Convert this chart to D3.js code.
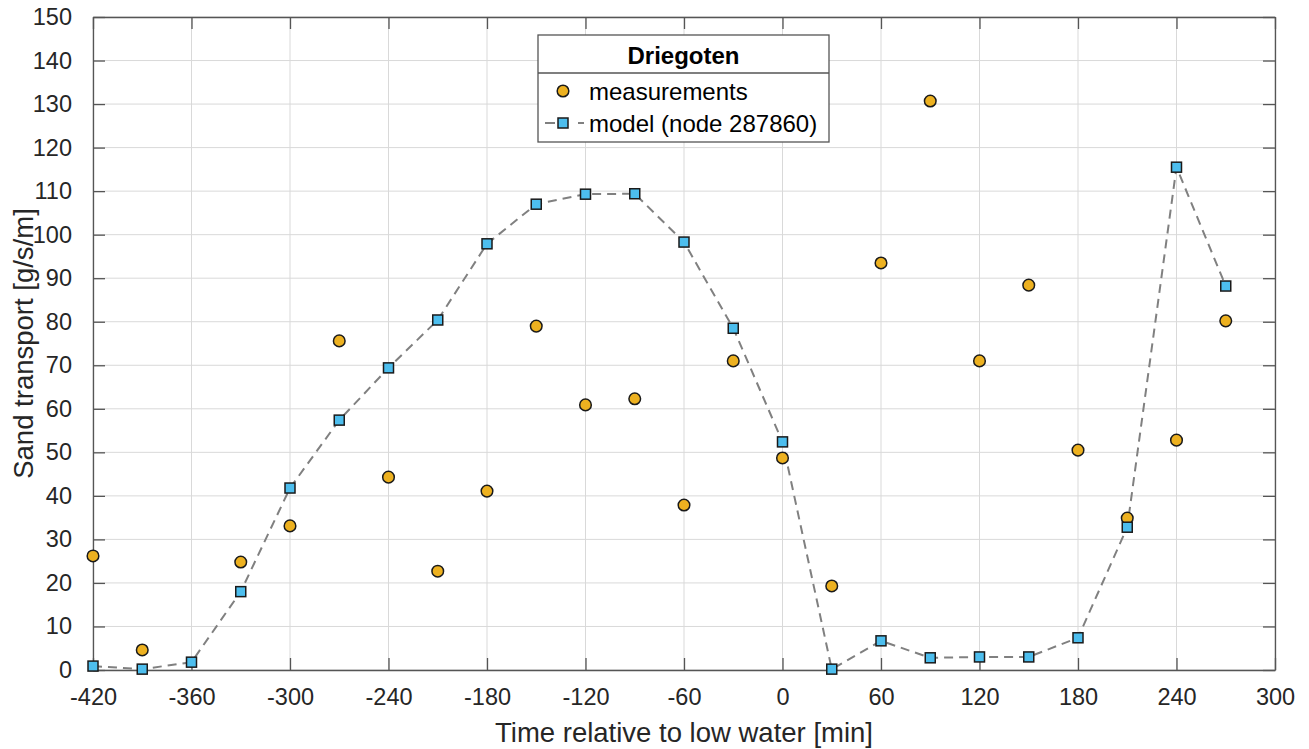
<!DOCTYPE html>
<html>
<head>
<meta charset="utf-8">
<script src="https://cdn.jsdelivr.net/npm/d3@7"></script>
<style>
  body { margin: 0; background: #fff; }
  svg { display: block; font-family: "Liberation Sans", Arial, sans-serif; }
</style>
</head>
<body>
<svg id="chart" width="1309" height="749"></svg>
<script>
const measTime = [-420, -390, -330, -300, -270, -240, -210, -180, -150, -120, -90, -60, -30, 0, 30, 60, 90, 120, 150, 180, 210, 240, 270];
const measValue = [26.2, 4.6, 24.8, 33.1, 75.6, 44.3, 22.7, 41.1, 79.0, 60.9, 62.3, 37.9, 71.0, 48.7, 19.3, 93.5, 130.7, 71.0, 88.4, 50.5, 34.9, 52.8, 80.2];
const modelTime = [-420, -390, -360, -330, -300, -270, -240, -210, -180, -150, -120, -90, -60, -30, 0, 30, 60, 90, 120, 150, 180, 210, 240, 270];
const modelValue = [0.9, 0.2, 1.8, 18.0, 41.8, 57.4, 69.4, 80.4, 97.9, 107.0, 109.3, 109.4, 98.3, 78.5, 52.4, 0.2, 6.7, 2.8, 3.0, 3.0, 7.4, 32.8, 115.5, 88.2];
const xTicks = [-420, -360, -300, -240, -180, -120, -60, 0, 60, 120, 180, 240, 300];
const yTicks = [0, 10, 20, 30, 40, 50, 60, 70, 80, 90, 100, 110, 120, 130, 140, 150];
const legendTitle = "Driegoten";
const seriesNames = ["measurements", "model (node 287860)"];
const xLabel = "Time relative to low water [min]";
const yLabel = "Sand transport [g/s/m]";

const svg = d3.select("#chart");
const L = 93, R = 1275, T = 17, B = 670;
const x = d3.scaleLinear().domain([-420, 300]).range([L, R]);
const y = d3.scaleLinear().domain([0, 150]).range([B, T]);
const textCol = "#262626", axisCol = "#555";
const fmt = d => String(d);

// grid
const g = svg.append("g");
g.selectAll(".vg").data(xTicks).join("line")
  .attr("x1", d => x(d)).attr("x2", d => x(d)).attr("y1", T).attr("y2", B)
  .attr("stroke", "#d9d9d9").attr("stroke-width", 1);
g.selectAll(".hg").data(yTicks).join("line")
  .attr("y1", d => y(d)).attr("y2", d => y(d)).attr("x1", L).attr("x2", R)
  .attr("stroke", "#d9d9d9").attr("stroke-width", 1);

// axes with inward ticks
const tl = 12;
const xb = svg.append("g").attr("transform", `translate(0,${B})`)
  .call(d3.axisBottom(x).tickValues(xTicks).tickFormat(fmt).tickSize(-tl).tickPadding(18).tickSizeOuter(0));
const xt = svg.append("g").attr("transform", `translate(0,${T})`)
  .call(d3.axisTop(x).tickValues(xTicks).tickSize(-tl).tickFormat("").tickSizeOuter(0));
const yl = svg.append("g").attr("transform", `translate(${L},0)`)
  .call(d3.axisLeft(y).tickValues(yTicks).tickFormat(fmt).tickSize(-tl).tickPadding(tl + 9).tickSizeOuter(0));
const yr = svg.append("g").attr("transform", `translate(${R},0)`)
  .call(d3.axisRight(y).tickValues(yTicks).tickSize(-tl).tickFormat("").tickSizeOuter(0));
[xb, xt, yl, yr].forEach(a => {
  a.select(".domain").attr("stroke", axisCol).attr("stroke-width", 1.3);
  a.selectAll(".tick line").attr("stroke", axisCol).attr("stroke-width", 1.3);
  a.selectAll(".tick text").attr("fill", textCol).style("font-size", "23.5px")
   .style("font-family", '"Liberation Sans", Arial, sans-serif');
});
xb.selectAll(".tick text").attr("dy", "0.71em");

// labels
svg.append("text").attr("x", (L + R) / 2).attr("y", 742).attr("text-anchor", "middle")
  .attr("fill", textCol).style("font-size", "27.5px").text(xLabel);
svg.append("text").attr("transform", `translate(33,${(T + B) / 2}) rotate(-90)`)
  .attr("text-anchor", "middle").attr("fill", textCol).style("font-size", "27.5px").text(yLabel);

// model line
const line = d3.line().x((d, i) => x(modelTime[i])).y(d => y(d));
svg.append("path").datum(modelValue).attr("d", line)
  .attr("fill", "none").attr("stroke", "#808080").attr("stroke-width", 2)
  .attr("stroke-dasharray", "9,6");

// measurements
svg.selectAll(".meas").data(measValue).join("circle")
  .attr("cx", (d, i) => x(measTime[i])).attr("cy", d => y(d)).attr("r", 5.8)
  .attr("fill", "#EDB120").attr("stroke", "#1a1a1a").attr("stroke-width", 1.5);

// model squares
const s = 10;
svg.selectAll(".mod").data(modelValue).join("rect")
  .attr("x", (d, i) => x(modelTime[i]) - s / 2).attr("y", d => y(d) - s / 2)
  .attr("width", s).attr("height", s)
  .attr("fill", "#4DBEEE").attr("stroke", "#1a1a1a").attr("stroke-width", 1.5);

// legend
const lg = svg.append("g");
const lx = 538, ly = 35, lw = 291, lh = 107;
lg.append("rect").attr("x", lx).attr("y", ly).attr("width", lw).attr("height", lh)
  .attr("fill", "#fff").attr("stroke", axisCol).attr("stroke-width", 1.3);
lg.append("line").attr("x1", lx).attr("x2", lx + lw).attr("y1", 73).attr("y2", 73)
  .attr("stroke", axisCol).attr("stroke-width", 1.3);
lg.append("text").attr("x", lx + lw / 2).attr("y", 64).attr("text-anchor", "middle")
  .attr("fill", "#000").style("font-size", "24px").style("font-weight", "bold").text(legendTitle);
lg.append("circle").attr("cx", 563).attr("cy", 91).attr("r", 5.8)
  .attr("fill", "#EDB120").attr("stroke", "#1a1a1a").attr("stroke-width", 1.5);
lg.append("line").attr("x1", 545).attr("x2", 584).attr("y1", 123).attr("y2", 123)
  .attr("stroke", "#808080").attr("stroke-width", 2).attr("stroke-dasharray", "10,23");
lg.append("line").attr("x1", 578).attr("x2", 584).attr("y1", 123).attr("y2", 123)
  .attr("stroke", "#808080").attr("stroke-width", 2);
lg.append("rect").attr("x", 563 - s / 2).attr("y", 123 - s / 2).attr("width", s).attr("height", s)
  .attr("fill", "#4DBEEE").attr("stroke", "#1a1a1a").attr("stroke-width", 1.5);
lg.selectAll(".lt").data(seriesNames).join("text")
  .attr("x", 589).attr("y", (d, i) => 100 + i * 32)
  .attr("fill", "#000").style("font-size", "24px").text(d => d);
</script>
</body>
</html>
